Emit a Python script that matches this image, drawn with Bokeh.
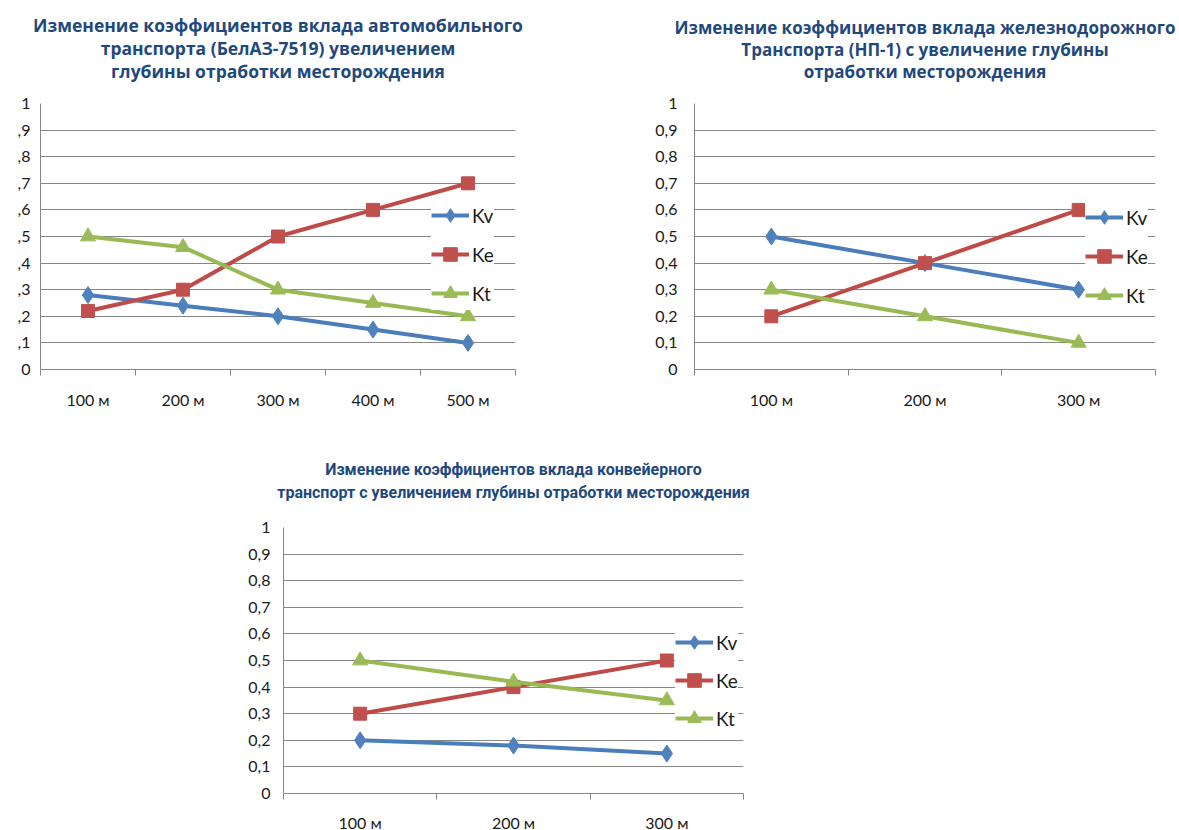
from bokeh.plotting import figure
from bokeh.models import (Range1d, FixedTicker, Legend, LegendItem, Title, Spacer,
                          LinearAxis)
from bokeh.layouts import row, column
from bokeh.embed import file_html
from bokeh.resources import INLINE

# ---------------- data ----------------
series_names = ["Kv", "Ke", "Kt"]

cats_auto = ["100 м", "200 м", "300 м", "400 м", "500 м"]
kv_auto = [0.28, 0.24, 0.20, 0.15, 0.10]
ke_auto = [0.22, 0.30, 0.50, 0.60, 0.70]
kt_auto = [0.50, 0.46, 0.30, 0.25, 0.20]

cats_rail = ["100 м", "200 м", "300 м"]
kv_rail = [0.5, 0.4, 0.3]
ke_rail = [0.2, 0.4, 0.6]
kt_rail = [0.3, 0.2, 0.1]

cats_conv = ["100 м", "200 м", "300 м"]
kv_conv = [0.20, 0.18, 0.15]
ke_conv = [0.30, 0.40, 0.50]
kt_conv = [0.50, 0.42, 0.35]

y_ticks = [0, 0.1, 0.2, 0.3, 0.4, 0.5, 0.6, 0.7, 0.8, 0.9, 1]
y_labels_full = ["0", "0,1", "0,2", "0,3", "0,4", "0,5", "0,6", "0,7", "0,8", "0,9", "1"]
y_labels_cut = ["0", ",1", ",2", ",3", ",4", ",5", ",6", ",7", ",8", ",9", "1"]

title_auto = ["Изменение коэффициентов вклада автомобильного",
              "транспорта (БелАЗ-7519) увеличением",
              "глубины отработки месторождения"]
title_rail = ["Изменение коэффициентов вклада железнодорожного",
              "Транспорта (НП-1) с увеличение глубины",
              "отработки месторождения"]
title_conv = ["Изменение коэффициентов вклада конвейерного",
              "транспорт с увеличением глубины отработки месторождения"]

# ---------------- style ----------------
LINE_COLORS = ["#4A7EBB", "#BE4B48", "#98B954"]
MARK_COLORS = ["#4F81BD", "#C0504D", "#9BBB59"]
GRID = "#868686"
TITLE_COLOR = "#1F497D"
TICK_FONT = "Lato"
TEXT_COLOR = "#1a1a1a"


def make_chart(cats, series, titles, y_labels, title_font, title_size, title_gap,
               title_standoff, border_left, border_top, border_bottom, border_right,
               frame_w, legend_loc, legend_spacing, x_standoff, y_standoff):
    n = len(cats)
    # each category occupies one unit slot; points sit in the slot centres
    slot_centers = [i + 0.5 for i in range(n)]
    p = figure(x_range=Range1d(0, n), y_range=Range1d(0, 1),
               output_backend="svg", toolbar_location=None,
               frame_width=frame_w, frame_height=266,
               min_border_left=border_left, min_border_top=border_top,
               min_border_bottom=border_bottom, min_border_right=border_right,
               outline_line_color=None, background_fill_color="white",
               border_fill_color="white")
    xa = p.below[0]
    ya = p.left[0]
    p.xgrid.visible = False
    p.ygrid.grid_line_color = GRID
    p.ygrid.grid_line_width = 1

    # invisible spacer axis between the frame and the title lines
    gap = LinearAxis(ticker=FixedTicker(ticks=[slot_centers[0]]), axis_line_color=None,
                     major_tick_out=title_gap, major_tick_in=0, minor_tick_out=0,
                     minor_tick_in=0, major_label_standoff=0,
                     major_label_overrides={slot_centers[0]: ""},
                     major_label_text_font_size="1px",
                     major_tick_line_color=None, minor_tick_line_color=None)
    p.add_layout(gap, "above")

    # title lines: the one closest to the frame is added first
    for line in reversed(titles):
        p.add_layout(Title(text=line, align="center", text_font=title_font,
                           text_font_size=title_size, text_font_style="bold",
                           text_color=TITLE_COLOR, standoff=title_standoff), "above")

    # y axis
    ya.ticker = FixedTicker(ticks=y_ticks)
    ya.major_label_overrides = {t: l for t, l in zip(y_ticks, y_labels)}
    ya.axis_line_color = GRID
    ya.major_tick_out = 0
    ya.major_tick_in = 0
    ya.minor_tick_out = 0
    ya.minor_tick_in = 0
    ya.major_label_standoff = y_standoff
    ya.major_label_text_font = TICK_FONT
    ya.major_label_text_font_size = "16px"
    ya.major_label_text_color = TEXT_COLOR

    # x axis: tick marks at category boundaries, labels at centres
    xa.ticker = FixedTicker(ticks=slot_centers, minor_ticks=list(range(n + 1)))
    xa.major_label_overrides = {c: l for c, l in zip(slot_centers, cats)}
    xa.axis_line_color = GRID
    xa.major_tick_out = 0
    xa.major_tick_in = 0
    xa.minor_tick_out = 6
    xa.minor_tick_in = 0
    xa.minor_tick_line_color = GRID
    xa.major_label_standoff = x_standoff
    xa.major_label_text_font = TICK_FONT
    xa.major_label_text_font_size = "16px"
    xa.major_label_text_color = TEXT_COLOR

    markers = [("diamond", 17), ("square", 13), ("triangle", 15)]
    items = []
    for name, vals, lc, mc, (mk, ms) in zip(series_names, series, LINE_COLORS,
                                             MARK_COLORS, markers):
        lr = p.line(x=slot_centers, y=vals, line_color=lc, line_width=4, level="overlay")
        sr = p.scatter(x=slot_centers, y=vals, marker=mk, size=ms,
                       fill_color=mc, line_color=mc, level="overlay")
        items.append(LegendItem(label=name, renderers=[lr, sr]))

    legend = Legend(items=items, location=legend_loc, orientation="vertical",
                    background_fill_color="white", background_fill_alpha=1,
                    border_line_color=None, padding=2, spacing=legend_spacing,
                    glyph_width=38, glyph_height=34, label_height=34,
                    label_standoff=3, label_text_font=TICK_FONT,
                    label_text_font_size="19px", label_text_color=TEXT_COLOR,
                    margin=0)
    p.add_layout(legend)
    return p


p1 = make_chart(cats_auto, [kv_auto, ke_auto, kt_auto], title_auto,
                y_labels_cut, "Open Sans", "17.5px", 22, -3, 40, 103, 48, 45, 475,
                (391, 59), 5, 14, 10)
p2 = make_chart(cats_rail, [kv_rail, ke_rail, kt_rail], title_rail,
                y_labels_full, "Open Sans", "17px", 22, -3, 54, 103, 48, 24, 461,
                (391, 57), 5, 14, 17)
p3 = make_chart(cats_conv, [kv_conv, ke_conv, kt_conv], title_conv,
                y_labels_full, "Roboto", "16px", 25, 2, 43, 110, 30, 137, 460,
                (392, 58), 4, 13, 13)

layout = column(row(p1, Spacer(width=80), p2), row(Spacer(width=240), p3))

open("out.html", "w").write(file_html(layout, INLINE))
